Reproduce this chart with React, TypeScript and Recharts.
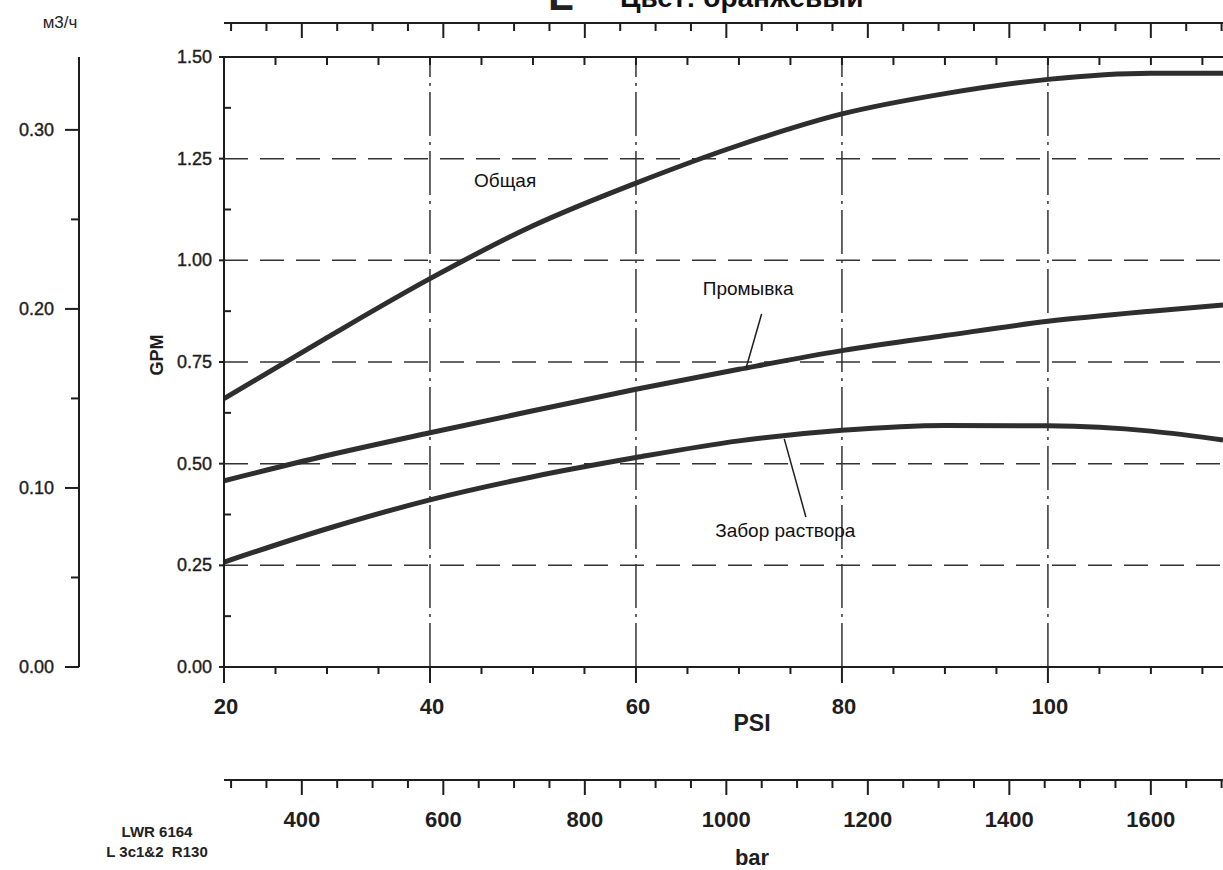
import React from "react";
import { LineChart, Line, XAxis, YAxis, ReferenceLine, ReferenceDot } from "recharts";

// PSI points
const psi = [20, 30, 40, 50, 60, 70, 80, 90, 100, 110, 117];
const totalGpm = [0.66, 0.81, 0.955, 1.085, 1.19, 1.283, 1.36, 1.41, 1.445, 1.46, 1.46];
const flushGpm = [0.458, 0.52, 0.576, 0.63, 0.683, 0.732, 0.778, 0.815, 0.85, 0.875, 0.89];
const suctionGpm = [0.258, 0.34, 0.411, 0.468, 0.515, 0.556, 0.582, 0.594, 0.593, 0.58, 0.558];

const psiTicks = [20, 25, 30, 35, 40, 45, 50, 55, 60, 65, 70, 75, 80, 85, 90, 95, 100, 105, 110, 115];
const barTicks = [300, 350, 400, 450, 500, 550, 600, 650, 700, 750, 800, 850, 900, 950, 1000, 1050, 1100, 1150, 1200, 1250, 1300, 1350, 1400, 1450, 1500, 1550, 1600, 1650, 1700];
const gpmTicks = [0, 0.125, 0.25, 0.375, 0.5, 0.625, 0.75, 0.875, 1, 1.125, 1.25, 1.375, 1.5];
const m3hTicks = [0, 0.05, 0.1, 0.15, 0.2, 0.25, 0.3];
const gpmGrid = [0.25, 0.5, 0.75, 1, 1.25];
const psiGrid = [40, 60, 80, 100];

const rows = psi.map((p, i) => ({
  psi: p,
  total: totalGpm[i],
  flush: flushGpm[i],
  suction: suctionGpm[i],
}));

const INK = "#1e1e1e";
const CURVE = "#2e2e2e";
const sans = "'Liberation Sans', Arial, sans-serif";
const narrow = "'Liberation Sans Narrow', 'Arial Narrow', 'Liberation Sans', sans-serif";

const isStep = (v: number, step: number) => Math.abs(v / step - Math.round(v / step)) < 1e-6;

function PsiBottomTick({ x, y, payload }: any) {
  const v = payload.value;
  const major = isStep(v, 20);
  return (
    <g>
      <line x1={x} x2={x} y1={y} y2={y + (major ? 16 : 7)} stroke={INK} strokeWidth={2} />
      {major && (
        <text x={x + 2} y={y + 39} textAnchor="middle" dominantBaseline="central"
          fontFamily={narrow} fontWeight="bold" fontSize={22} fill={INK}>{v}</text>
      )}
    </g>
  );
}

function PsiTopTick({ x, y }: any) {
  return <line x1={x} x2={x} y1={y} y2={y + 8} stroke={INK} strokeWidth={2} />;
}

function BarTick({ x, y, payload, labels }: any) {
  const v = payload.value;
  const major = isStep(v, 200);
  return (
    <g>
      <line x1={x} x2={x} y1={y} y2={y + (major ? 15 : 8)} stroke={INK} strokeWidth={2} />
      {labels && major && v >= 400 && v <= 1600 && (
        <text x={x} y={y + 39} textAnchor="middle" dominantBaseline="central"
          fontFamily={narrow} fontWeight="bold" fontSize={22} fill={INK}>{v}</text>
      )}
    </g>
  );
}

function GpmTick({ x, y, payload }: any) {
  const v = payload.value;
  const major = isStep(v, 0.25);
  return (
    <g>
      {major ? (
        <line x1={x - 5} x2={x} y1={y} y2={y} stroke={INK} strokeWidth={2} />
      ) : (
        <line x1={x} x2={x + 7} y1={y} y2={y} stroke={INK} strokeWidth={2} />
      )}
      {major && (
        <text x={x - 12} y={y} textAnchor="end" dominantBaseline="central"
          fontFamily={sans} fontSize={18} fill={INK} stroke={INK} strokeWidth={0.4}>{v.toFixed(2)}</text>
      )}
    </g>
  );
}

function M3hTick({ x, y, payload }: any) {
  const v = payload.value;
  const major = isStep(v, 0.1);
  return (
    <g>
      <line x1={x - (major ? 14 : 8)} x2={x} y1={y} y2={y} stroke={INK} strokeWidth={2} />
      {major && (
        <text x={x - 25} y={y} textAnchor="end" dominantBaseline="central"
          fontFamily={sans} fontSize={18} fill={INK} stroke={INK} strokeWidth={0.4}>{v.toFixed(2)}</text>
      )}
    </g>
  );
}

const BarTickLabelled = (p: any) => <BarTick {...p} labels />;
const BarTickPlain = (p: any) => <BarTick {...p} labels={false} />;

const axisLine = { stroke: INK, strokeWidth: 2 };
const noteStyle = { fontFamily: sans, fontSize: 19, fill: "#111" };

export default function App() {
  return (
    <div style={{ position: "absolute", left: 0, top: 0, width: 1223, height: 870, background: "#fff", overflow: "hidden" }}>
      <LineChart width={1223} height={870} data={rows} margin={{ top: 0, right: 0, bottom: 0, left: 0 }}>
        {/* axis ids are named so the nearest axis to the plot comes first */}
        <XAxis xAxisId="x1psi" dataKey="psi" type="number" domain={[20, 117]} ticks={psiTicks} allowDataOverflow
          orientation="bottom" height={113} interval={0} tickSize={0} tickMargin={0} tickLine={false}
          axisLine={axisLine} tick={PsiBottomTick} />
        <XAxis xAxisId="x2bar" dataKey="psi" type="number" domain={[290, 1702]} ticks={barTicks} allowDataOverflow
          orientation="bottom" height={90} interval={0} tickSize={0} tickMargin={0} tickLine={false}
          axisLine={axisLine} tick={BarTickLabelled} />
        <XAxis xAxisId="x3psiTop" dataKey="psi" type="number" domain={[20, 117]} ticks={psiTicks} allowDataOverflow
          orientation="top" height={34} interval={0} tickSize={0} tickMargin={0} tickLine={false}
          axisLine={axisLine} tick={PsiTopTick} />
        <XAxis xAxisId="x4barTop" dataKey="psi" type="number" domain={[290, 1702]} ticks={barTicks} allowDataOverflow
          orientation="top" height={23} interval={0} tickSize={0} tickMargin={0} tickLine={false}
          axisLine={axisLine} tick={BarTickPlain} />
        <YAxis yAxisId="y1gpm" type="number" domain={[0, 1.5]} ticks={gpmTicks} allowDataOverflow
          width={145} interval={0} tickSize={0} tickMargin={0} tickLine={false}
          axisLine={axisLine} tick={GpmTick} />
        <YAxis yAxisId="y2m3h" type="number" domain={[0, 0.3407]} ticks={m3hTicks} allowDataOverflow
          width={79} interval={0} tickSize={0} tickMargin={0} tickLine={false}
          axisLine={axisLine} tick={M3hTick} />

        {gpmGrid.map((g) => (
          <ReferenceLine key={`h${g}`} xAxisId="x1psi" yAxisId="y1gpm" y={g} stroke="#333" strokeWidth={1.5} strokeDasharray="24 12" />
        ))}
        {psiGrid.map((g) => (
          <ReferenceLine key={`v${g}`} xAxisId="x1psi" yAxisId="y1gpm" x={g} stroke="#333" strokeWidth={1.5} strokeDasharray="44 6 3 6" />
        ))}

        <Line xAxisId="x1psi" yAxisId="y1gpm" type="monotone" dataKey="total" stroke={CURVE} strokeWidth={5} dot={false} activeDot={false} isAnimationActive={false} />
        <Line xAxisId="x1psi" yAxisId="y1gpm" type="monotone" dataKey="flush" stroke={CURVE} strokeWidth={5} dot={false} activeDot={false} isAnimationActive={false} />
        <Line xAxisId="x1psi" yAxisId="y1gpm" type="monotone" dataKey="suction" stroke={CURVE} strokeWidth={5} dot={false} activeDot={false} isAnimationActive={false} />

        <ReferenceLine xAxisId="x1psi" yAxisId="y1gpm" segment={[{ x: 72.2, y: 0.868 }, { x: 70.7, y: 0.736 }]} stroke={INK} strokeWidth={1.5} />
        <ReferenceLine xAxisId="x1psi" yAxisId="y1gpm" segment={[{ x: 74.4, y: 0.561 }, { x: 76.5, y: 0.369 }]} stroke={INK} strokeWidth={1.5} />

        <ReferenceDot xAxisId="x1psi" yAxisId="y1gpm" x={47.3} y={1.197} r={0} fill="none" stroke="none"
          label={{ value: "Общая", position: "center", ...noteStyle }} />
        <ReferenceDot xAxisId="x1psi" yAxisId="y1gpm" x={70.9} y={0.932} r={0} fill="none" stroke="none"
          label={{ value: "Промывка", position: "center", ...noteStyle }} />
        <ReferenceDot xAxisId="x1psi" yAxisId="y1gpm" x={74.5} y={0.337} r={0} fill="none" stroke="none"
          label={{ value: "Забор раствора", position: "center", ...noteStyle }} />
      </LineChart>

      {/* titles and captions around the plot */}
      <svg width={1223} height={870} style={{ position: "absolute", left: 0, top: 0, pointerEvents: "none" }}>
        <text x={548} y={10} fontFamily={sans} fontWeight="bold" fontSize={42} fill="#222">L</text>
        <text x={620} y={7} fontFamily={sans} fontWeight="bold" fontSize={28} fill="#111">Цвет: оранжевый</text>
        <text x={60} y={22} textAnchor="middle" dominantBaseline="central" fontFamily={sans} fontSize={17} fill={INK}>м3/ч</text>
        <text x={0} y={0} transform="translate(157 355) rotate(-90)" textAnchor="middle" dominantBaseline="central"
          fontFamily={sans} fontWeight="bold" fontSize={18} fill={INK}>GPM</text>
        <text x={752} y={723} textAnchor="middle" dominantBaseline="central" fontFamily={sans} fontWeight="bold" fontSize={23} fill={INK}>PSI</text>
        <text x={752} y={857} textAnchor="middle" dominantBaseline="central" fontFamily={sans} fontWeight="bold" fontSize={22} fill={INK}>bar</text>
        <text x={157} y={831} textAnchor="middle" dominantBaseline="central" fontFamily={narrow} fontWeight="bold" fontSize={15} fill="#222">LWR 6164</text>
        <text x={157} y={851} textAnchor="middle" dominantBaseline="central" fontFamily={narrow} fontWeight="bold" fontSize={15} fill="#222" xmlSpace="preserve">L 3c1&amp;2  R130</text>
      </svg>
    </div>
  );
}
